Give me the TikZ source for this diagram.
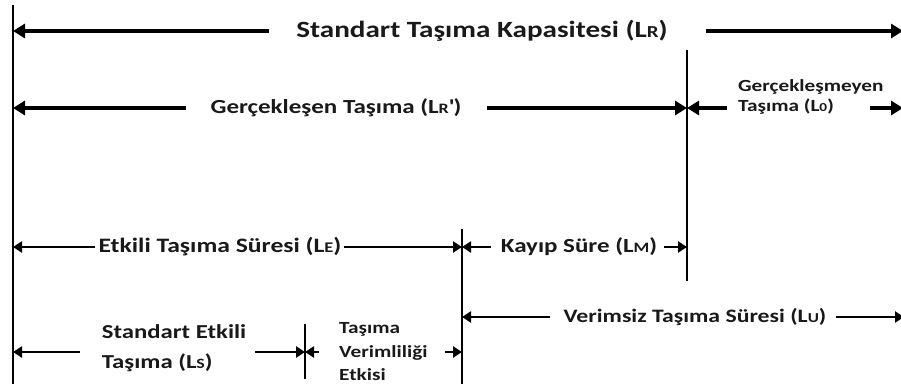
\documentclass[tikz,border=0pt]{standalone}
\usepackage{fontspec}
\setmainfont{Carlito}[FakeStretch=1.25]
\usetikzlibrary{arrows.meta}
\newcommand\lsub[1]{{\fontsize{0.72em}{1em}\selectfont #1}}
\newcommand\fs[2]{\bfseries\fontsize{#1}{#2}\selectfont}
\begin{document}
\begin{tikzpicture}[x=1pt,y=-1pt,
  lbl/.style={text=black!90, inner sep=0pt, align=center},
  big/.style={line width=4pt, -{Triangle[length=12pt,width=14pt]}},
  thin/.style={line width=2.6pt, -{Triangle[length=9pt,width=11pt]}},
  vline/.style={line width=2pt},
  vthin/.style={line width=1.6pt}]
\useasboundingbox (0,0) rectangle (901,389);
% vertical lines
\coordinate (v0t) at (13,5);   \coordinate (v0b) at (13,384);
\coordinate (v1t) at (687,50); \coordinate (v1b) at (687,281);
\coordinate (v2t) at (462,229); \coordinate (v2b) at (462,384);
\coordinate (v3t) at (305,324); \coordinate (v3b) at (305,379);
\draw[vline] (v0t) -- (v0b);
\draw[vthin] (v1t) -- (v1b);
\draw[vthin] (v2t) -- (v2b);
\draw[vthin] (v3t) -- (v3b);
% row 1
\coordinate (a1l) at (13,31); \coordinate (a1r) at (903,31);
\node[lbl, font=\fs{23.3}{26}] (t1) at (482,31) {Standart Taşıma Kapasitesi (L\lsub{R})};
\draw[big] ([xshift=-27pt]t1.west) -- (a1l);
\draw[big] ([xshift=38pt]t1.east) -- (a1r);
% row 2
\coordinate (a2l) at (13,108); \coordinate (a2r) at (687,108);
\node[lbl, font=\fs{20}{24}] (t2) at (336,108) {Gerçekleşen Taşıma (L\lsub{R}\textquotesingle)};
\draw[big] ([xshift=-24pt]t2.west) -- (a2l);
\draw[big] ([xshift=25pt]t2.east) -- (a2r);
\coordinate (a3l) at (687,108); \coordinate (a3r) at (903,108);
\coordinate (a3ls) at (727,108); \coordinate (a3rs) at (870,108);
\node[lbl, font=\fs{17}{20}, align=left, anchor=west] (t3) at (738,97) {Gerçekleşmeyen\\Taşıma (L\lsub{0})};
\draw[big] (a3ls) -- (a3l);
\draw[big] (a3rs) -- (a3r);
% row 3
\coordinate (a4l) at (13,247); \coordinate (a4r) at (462,247);
\node[lbl, font=\fs{20.5}{24}] (t4) at (220,247) {Etkili Taşıma Süresi (L\lsub{E})};
\draw[thin] ([xshift=-3pt]t4.west) -- (a4l);
\draw[thin] ([xshift=2pt]t4.east) -- (a4r);
\coordinate (a5l) at (462,247); \coordinate (a5r) at (687,247);
\node[lbl, font=\fs{20}{24}] (t5) at (579,247) {Kayıp Süre (L\lsub{M})};
\draw[thin] ([xshift=-10pt]t5.west) -- (a5l);
\draw[thin] ([xshift=7pt]t5.east) -- (a5r);
% row 4
\coordinate (a6l) at (462,317); \coordinate (a6r) at (904,317);
\node[lbl, font=\fs{19}{24}] (t6) at (695,317) {Verimsiz Taşıma Süresi (L\lsub{U})};
\draw[thin] ([xshift=-13pt]t6.west) -- (a6l);
\draw[thin] ([xshift=9pt]t6.east) -- (a6r);
% row 5
\coordinate (a7l) at (13,352); \coordinate (a7r) at (305,352);
\coordinate (a7ls) at (80,352); \coordinate (a7rs) at (255,352);
\node[lbl, font=\fs{19.8}{30}, align=left] (t7) at (174,348) {Standart Etkili\\Taşıma (L\lsub{S})};
\draw[thin] (a7ls) -- (a7l);
\draw[thin] (a7rs) -- (a7r);
\coordinate (a8l) at (305,352); \coordinate (a8r) at (462,352);
\coordinate (a8ls) at (319,352); \coordinate (a8rs) at (445,352);
\node[lbl, font=\fs{17}{23.5}, align=left, anchor=west] (t8) at (339,352) {Taşıma\\Verimliliği\\Etkisi};
\draw[thin] (a8ls) -- (a8l);
\draw[thin] (a8rs) -- (a8r);
\end{tikzpicture}
\end{document}
